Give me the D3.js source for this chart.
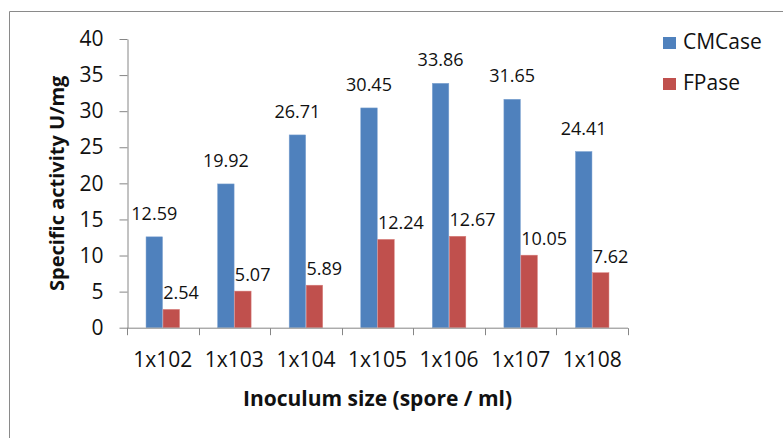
<!DOCTYPE html>
<html>
<head>
<meta charset="utf-8">
<script src="https://cdn.jsdelivr.net/npm/d3@7"></script>
<style>
  html, body { margin: 0; padding: 0; background: #fff; }
  svg { display: block; font-family: "Open Sans", sans-serif; }
</style>
</head>
<body>
<svg id="chart" width="783" height="438"></svg>
<script>
// Inoculum sizes (spores/ml) and specific activities (U/mg)
const categories = ["1x102", "1x103", "1x104", "1x105", "1x106", "1x107", "1x108"];
const seriesNames = ["CMCase", "FPase"];
const cmcase = [12.59, 19.92, 26.71, 30.45, 33.86, 31.65, 24.41];
const fpase = [2.54, 5.07, 5.89, 12.24, 12.67, 10.05, 7.62];
const yTicks = [0, 5, 10, 15, 20, 25, 30, 35, 40];
const colors = { CMCase: "#4F81BD", FPase: "#C0504D" };
const strokes = { CMCase: "#7FA3D2", FPase: "#D9817F" };

const svg = d3.select("#chart");
const axisColor = "#868686";

// outer frame (top and left edges visible)
svg.append("path")
  .attr("d", "M9.5,438 V11.5 H783")
  .attr("fill", "none")
  .attr("stroke", "#8a8a8a")
  .attr("stroke-width", 1);

const plot = { left: 127, right: 628, top: 39, bottom: 327.7 };

const x = d3.scaleBand().domain(categories).range([plot.left, plot.right]).padding(0);
const y = d3.scaleLinear().domain([0, 40]).range([plot.bottom, plot.top]);
const barW = 17;
const x1 = d3.scaleBand().domain(seriesNames)
  .range([x.bandwidth() / 2 - barW, x.bandwidth() / 2 + barW]).padding(0);

const rows = categories.map((c, i) => ({ cat: c, CMCase: cmcase[i], FPase: fpase[i] }));

// bars
const groups = svg.append("g").selectAll("g").data(rows).join("g")
  .attr("transform", d => `translate(${x(d.cat)},0)`);

groups.selectAll("rect")
  .data(d => seriesNames.map(s => ({ s, v: d[s] })))
  .join("rect")
  .attr("x", d => x1(d.s) + 0.25)
  .attr("width", x1.bandwidth() - 0.5)
  .attr("y", d => y(d.v))
  .attr("height", d => y(0) - y(d.v))
  .attr("fill", d => colors[d.s])
  .attr("stroke", d => strokes[d.s])
  .attr("stroke-width", 0.5);

// value labels
groups.append("text")
  .attr("x", x1("CMCase") + x1.bandwidth() / 2)
  .attr("y", d => y(d.CMCase) - 17)
  .attr("text-anchor", "middle")
  .attr("font-size", 18)
  .attr("fill", "#111")
  .text(d => d.CMCase.toFixed(2));

groups.append("text")
  .attr("x", x1("FPase") + 0.5)
  .attr("y", d => y(d.FPase) - 10)
  .attr("text-anchor", "start")
  .attr("font-size", 18)
  .attr("fill", "#111")
  .text(d => d.FPase.toFixed(2));

// y axis
const yAxis = svg.append("g")
  .attr("transform", `translate(${plot.left + 0.5},0)`)
  .call(d3.axisLeft(y).tickValues(yTicks).tickSize(8).tickSizeOuter(0).tickPadding(16));
yAxis.select(".domain").attr("stroke", axisColor);
yAxis.selectAll(".tick line").attr("stroke", axisColor);
yAxis.selectAll(".tick text").attr("font-size", 21).attr("fill", "#111")
  .attr("font-family", "Open Sans, sans-serif");

// x axis with tick marks at category boundaries
const xAxis = svg.append("g").attr("transform", `translate(0,${plot.bottom + 0.5})`);
xAxis.append("line")
  .attr("x1", plot.left).attr("x2", plot.right)
  .attr("stroke", axisColor);
const bounds = categories.map(c => x(c)).concat([x(categories[categories.length - 1]) + x.bandwidth()]);
xAxis.selectAll("line.tk").data(bounds).join("line")
  .attr("class", "tk")
  .attr("x1", d => Math.round(d) + 0.5).attr("x2", d => Math.round(d) + 0.5)
  .attr("y1", 0).attr("y2", 7)
  .attr("stroke", axisColor);
xAxis.selectAll("text").data(categories).join("text")
  .attr("x", d => x(d) + x.bandwidth() / 2)
  .attr("y", 39)
  .attr("text-anchor", "middle")
  .attr("font-size", 21)
  .attr("fill", "#111")
  .text(d => d);

// axis titles
svg.append("text")
  .attr("x", (plot.left + plot.right) / 2)
  .attr("y", 406)
  .attr("text-anchor", "middle")
  .attr("font-size", 21)
  .attr("font-weight", "bold")
  .attr("fill", "#111")
  .text("Inoculum size (spore / ml)");

svg.append("text")
  .attr("transform", `translate(64,${(plot.top + plot.bottom) / 2}) rotate(-90)`)
  .attr("text-anchor", "middle")
  .attr("font-size", 20)
  .attr("font-weight", "bold")
  .attr("fill", "#111")
  .text("Specific activity U/mg");

// legend
const legend = svg.append("g").selectAll("g").data(seriesNames).join("g")
  .attr("transform", (d, i) => `translate(663,${37 + i * 41})`);
legend.append("rect")
  .attr("width", 13).attr("height", 12)
  .attr("fill", d => colors[d]);
legend.append("text")
  .attr("x", 20).attr("y", 12)
  .attr("font-size", 21)
  .attr("fill", "#111")
  .text(d => d);
</script>
</body>
</html>
